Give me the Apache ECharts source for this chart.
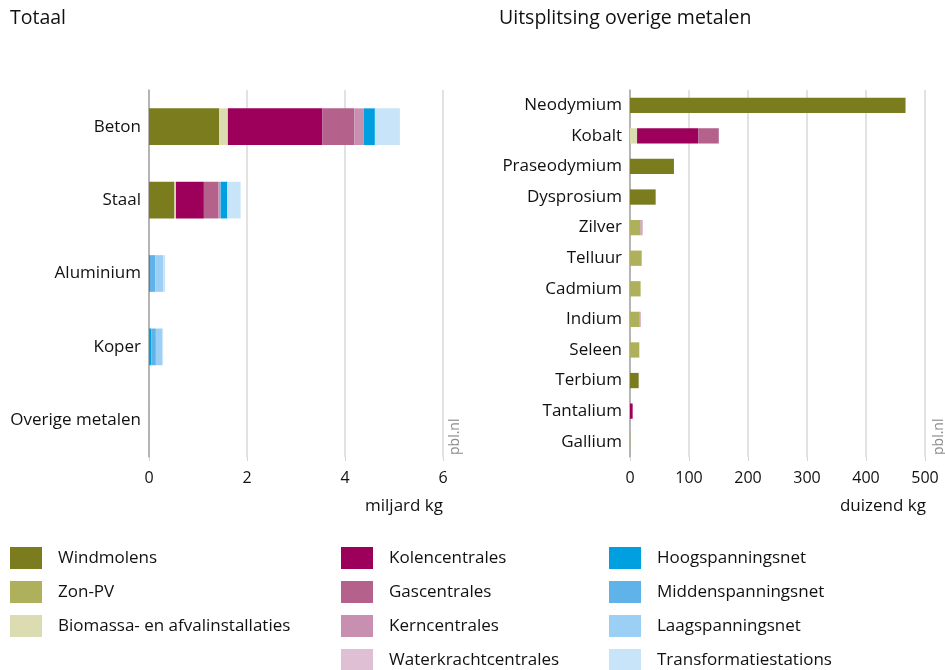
<!DOCTYPE html>
<html>
<head>
<meta charset="utf-8">
<script src="https://cdn.jsdelivr.net/npm/echarts@6/dist/echarts.min.js"></script>
<style>
html, body { margin: 0; padding: 0; background: #fff; }
#chart { width: 945px; height: 670px; }
</style>
</head>
<body>
<div id="chart"></div>
<script>
// categorieen
var catTotaal = ['Beton', 'Staal', 'Aluminium', 'Koper', 'Overige metalen'];
var catMetalen = ['Neodymium', 'Kobalt', 'Praseodymium', 'Dysprosium', 'Zilver', 'Telluur',
	'Cadmium', 'Indium', 'Seleen', 'Terbium', 'Tantalium', 'Gallium'];

var seriesNames = ['Windmolens', 'Zon-PV', 'Biomassa- en afvalinstallaties', 'Kolencentrales',
	'Gascentrales', 'Kerncentrales', 'Waterkrachtcentrales', 'Hoogspanningsnet',
	'Middenspanningsnet', 'Laagspanningsnet', 'Transformatiestations'];
var seriesColors = ['#7a7c1e', '#aeb05c', '#dcdcb2', '#9c005a', '#b4628c', '#c98fb0',
	'#dfbfd4', '#009fdf', '#5fb3e8', '#9ccff4', '#c8e4f8'];

// Totaal, miljard kg (Beton, Staal, Aluminium, Koper, Overige metalen)
var totWind = [1.43, 0.52, 0, 0, 0.0006];
var totZon = [0, 0, 0, 0, 0.0001];
var totBio = [0.18, 0.03, 0, 0, 0];
var totKolen = [1.93, 0.57, 0, 0.01, 0.0001];
var totGas = [0.65, 0.30, 0, 0.01, 0];
var totKern = [0.19, 0.03, 0, 0, 0];
var totWater = [0, 0.01, 0, 0, 0];
var totHoog = [0.23, 0.14, 0.02, 0.03, 0];
var totMidden = [0, 0, 0.11, 0.09, 0];
var totLaag = [0, 0, 0.16, 0.13, 0];
var totTransfo = [0.51, 0.27, 0.04, 0.02, 0];

// Uitsplitsing overige metalen, duizend kg
var metWind = [467, 0, 74.5, 43.5, 0, 0, 0, 0, 0, 14.7, 0, 0];
var metZon = [0, 0, 0, 0, 18, 19.8, 18, 16.5, 15.8, 0, 0, 0.5];
var metBio = [0, 12, 0, 0, 0, 0, 0, 0, 0, 0, 0, 0];
var metKolen = [0, 104, 0, 0, 0, 0, 0, 0, 0, 0, 4.5, 0];
var metGas = [0, 34.5, 0, 0, 0, 0, 0, 0, 0, 0, 0, 0];
var metKern = [0, 0, 0, 0, 2, 0, 0, 1.5, 0, 0, 0, 0];
var metWater = [0, 0, 0, 0, 2, 0, 0, 0, 0, 0, 0, 0];
var metHoog = [0, 0, 0, 0, 0, 0, 0, 0, 0, 0, 0, 0];
var metMidden = [0, 0, 0, 0, 0, 0, 0, 0, 0, 0, 0, 0];
var metLaag = [0, 0, 0, 0, 0, 0, 0, 0, 0, 0, 0, 0];
var metTransfo = [0, 0, 0, 0, 0, 0, 0, 0, 0, 0, 0, 0];

var xTicksTotaal = [0, 2, 4, 6];
var xTicksMetalen = [0, 100, 200, 300, 400, 500];

var totData = [totWind, totZon, totBio, totKolen, totGas, totKern, totWater, totHoog, totMidden, totLaag, totTransfo];
var metData = [metWind, metZon, metBio, metKolen, metGas, metKern, metWater, metHoog, metMidden, metLaag, metTransfo];

var font = '"Open Sans", "Noto Sans", sans-serif';

function xAxisFor(gridIndex, ticks) {
	return {
		type: 'value',
		gridIndex: gridIndex,
		min: ticks[0],
		max: ticks[ticks.length - 1],
		interval: ticks[1] - ticks[0],
		axisLine: { show: false },
		axisTick: { show: true, length: 4, lineStyle: { color: '#d4d4d4' } },
		axisLabel: { color: '#111', fontSize: 16, fontFamily: font, margin: 13 },
		splitLine: { show: true, lineStyle: { color: '#d9d9d9', width: 1.5 } }
	};
}

function yAxisFor(gridIndex, cats) {
	return {
		type: 'category',
		gridIndex: gridIndex,
		inverse: true,
		data: cats,
		axisLine: { show: true, lineStyle: { color: '#a6a6a6', width: 1.5 } },
		axisTick: { show: false },
		axisLabel: { color: '#111', fontSize: 17, fontFamily: font, margin: 8 }
	};
}

var series = [];
for (var i = 0; i < seriesNames.length; i++) {
	series.push({
		name: seriesNames[i],
		type: 'bar',
		stack: 'totaal',
		xAxisIndex: 0,
		yAxisIndex: 0,
		barWidth: '50%',
		itemStyle: { color: seriesColors[i] },
		data: totData[i]
	});
}
for (var j = 0; j < seriesNames.length; j++) {
	series.push({
		name: seriesNames[j],
		type: 'bar',
		stack: 'metalen',
		xAxisIndex: 1,
		yAxisIndex: 1,
		barWidth: '50%',
		itemStyle: { color: seriesColors[j] },
		data: metData[j]
	});
}

function legendFor(left, names) {
	return {
		orient: 'vertical',
		left: left,
		top: 547,
		height: 200,
		padding: 0,
		itemWidth: 32,
		itemHeight: 22,
		itemGap: 12,
		icon: 'rect',
		selectedMode: false,
		data: names,
		textStyle: { color: '#111', fontSize: 17, fontFamily: font, padding: [0, 0, 0, 11] }
	};
}

var myChart = echarts.init(document.getElementById('chart'));
var option = {
	animation: false,
	textStyle: { fontFamily: font },
	grid: [
		{ left: 149, top: 90, width: 294, height: 367 },
		{ left: 630, top: 90, width: 295, height: 367 }
	],
	xAxis: [xAxisFor(0, xTicksTotaal), xAxisFor(1, xTicksMetalen)],
	yAxis: [yAxisFor(0, catTotaal), yAxisFor(1, catMetalen)],
	legend: [
		legendFor(10, seriesNames.slice(0, 3)),
		legendFor(341, seriesNames.slice(3, 7)),
		legendFor(609, seriesNames.slice(7, 11))
	],
	graphic: [
		{ type: 'text', left: 10, top: 8, style: { text: 'Totaal', fontSize: 19.5, fontFamily: font, fill: '#111' } },
		{ type: 'text', left: 499, top: 8, style: { text: 'Uitsplitsing overige metalen', fontSize: 19.5, fontFamily: font, fill: '#111' } },
		{ type: 'text', right: 502, top: 498, style: { text: 'miljard kg', fontSize: 17, fontFamily: font, fill: '#111' } },
		{ type: 'text', right: 19, top: 498, style: { text: 'duizend kg', fontSize: 17, fontFamily: font, fill: '#111' } },
		{ type: 'text', x: 448, y: 455, rotation: Math.PI / 2, style: { text: 'pbl.nl', fontSize: 14, fontFamily: font, fill: '#8c8c8c' } },
		{ type: 'text', x: 932, y: 455, rotation: Math.PI / 2, style: { text: 'pbl.nl', fontSize: 14, fontFamily: font, fill: '#8c8c8c' } }
	],
	series: series
};
myChart.setOption(option);
</script>
</body>
</html>
